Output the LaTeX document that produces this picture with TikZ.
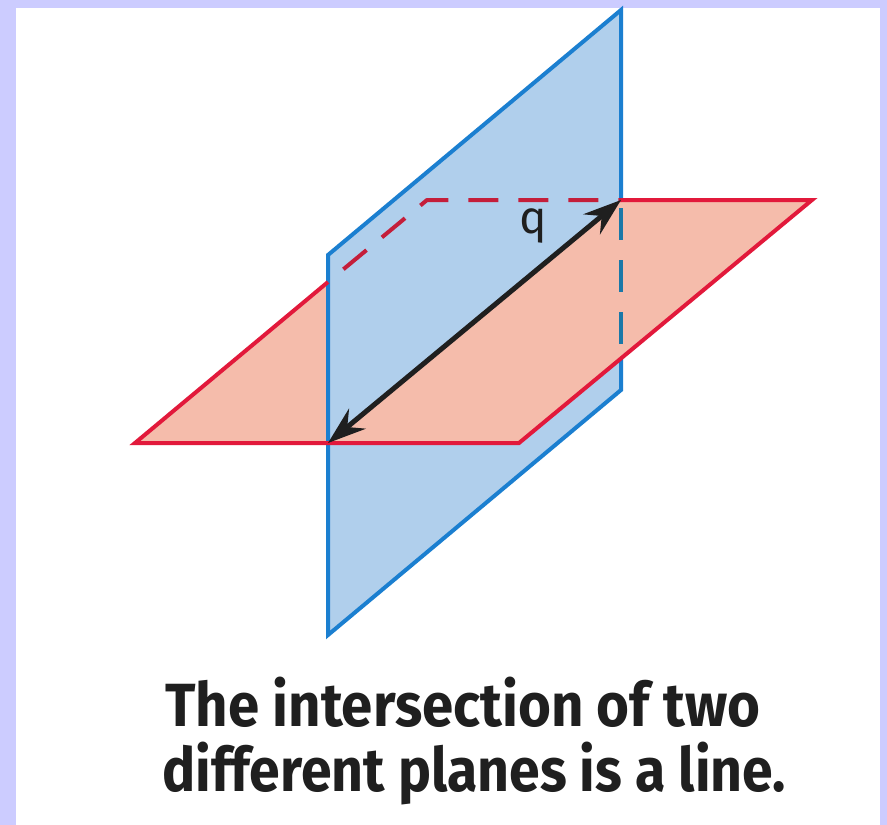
\documentclass[tikz,border=0pt]{standalone}
\usepackage{fontspec}
\usepackage{graphicx}
\setmainfont{Fira Sans}
\usetikzlibrary{arrows.meta}
\definecolor{lav}{HTML}{CCCCFF}
\definecolor{bluefill}{HTML}{B0CFEC}
\definecolor{bluestroke}{HTML}{1B7FD0}
\definecolor{bluedash}{HTML}{1A78A8}
\definecolor{redfill}{HTML}{F5BCAB}
\definecolor{redstroke}{HTML}{E2193B}
\definecolor{reddash}{HTML}{C41E3A}
\tikzset{
  blueedge/.style={draw=bluestroke, line width=4pt, line join=miter},
  rededge/.style={draw=redstroke, line width=4pt, line join=miter},
  bluehidden/.style={draw=bluedash, line width=4pt, dash pattern=on 32pt off 20pt, dash phase=44pt},
  redhidden/.style={draw=reddash, line width=4pt, dash pattern=on 30pt off 20pt, dash phase=30pt, line join=round},
  capline/.style={inner sep=0pt, anchor=base west, text=black!88},
  qtip/.tip={Stealth[length=38pt,width=26pt,inset=13pt]},
}
\begin{document}
\begin{tikzpicture}[x=1pt,y=-1pt]
\useasboundingbox (0,0) rectangle (887,825);
\fill[lav] (0,0) rectangle (887,825);
\fill[white] (16,8) rectangle (880,825);
% vertices
\coordinate (A) at (328,255);
\coordinate (B) at (621,10);
\coordinate (C) at (621,390);
\coordinate (D) at (328,635);
\coordinate (P) at (135,443);
\coordinate (Q) at (519,443);
\coordinate (R) at (812,200);
\coordinate (S) at (427,200);
\coordinate (I1) at (328,443);
\coordinate (I2) at (621,200);
\coordinate (L) at (328,282);
\coordinate (M) at (621,359);
% fills
\fill[redfill] (P) -- (Q) -- (R) -- (S) -- cycle;
\fill[bluefill] (A) -- (B) -- (C) -- (D) -- cycle;
\fill[redfill] (I1) -- (Q) -- (R) -- (I2) -- cycle;
% blue edges
\draw[blueedge] (I2) -- (B) -- (A) -- (D) -- (C) -- (M);
\draw[bluehidden] (I2) -- (M);
% red edges
\draw[rededge] (L) -- (P) -- (Q) -- (R) -- (I2);
\draw[redhidden] (L) -- (S) -- (I2);
% intersection line
\draw[line width=5pt, black!88, qtip-qtip] (I1) -- (I2);
\node[inner sep=0pt, text=black!88, font=\fontsize{46}{46}\selectfont] (q) at (533,226) {q};
% caption
\node[capline] (cap1) at (165,726) {\resizebox{595pt}{\height}{\fontsize{61}{61}\selectfont\bfseries The intersection of two}};
\node[capline] (cap2) at (162,791) {\resizebox{624pt}{\height}{\fontsize{61}{61}\selectfont\bfseries different planes is a line.}};
\end{tikzpicture}
\end{document}
